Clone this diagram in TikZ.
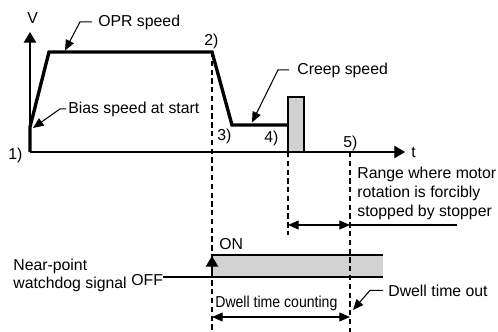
\documentclass[tikz,border=0pt]{standalone}
\usepackage{fontspec}
\setmainfont{Liberation Sans}
\usetikzlibrary{arrows.meta}
\definecolor{fillgray}{RGB}{210,210,210}
\begin{document}
\begin{tikzpicture}[x=0.02cm,y=-0.02cm,
  lbl/.style={inner sep=0pt, anchor=base west, font=\fontsize{9}{10.8}\selectfont},
  sline/.style={line width=0.6pt},
  axis/.style={line width=0.6pt, -{Triangle[length=6pt,width=7pt]}},
  profile/.style={line width=1.9pt, line join=miter},
  guide/.style={line width=0.6pt, dash pattern=on 3pt off 2pt},
  leader/.style={line width=0.6pt, -{Triangle[length=6pt,width=5pt]}},
  dim/.style={line width=0.6pt, {Triangle[length=6pt,width=5pt]}-{Triangle[length=6pt,width=5pt]}},
]
\useasboundingbox (0,0) rectangle (498,332);

% coordinates
\coordinate (o) at (30,152);
\coordinate (b) at (30,127);
\coordinate (a) at (49,52);
\coordinate (c2) at (212,52);
\coordinate (c3) at (232,125);
\coordinate (c4) at (288,125);
\coordinate (vtop) at (30,32);
\coordinate (tend) at (405,152);
\coordinate (g2b) at (212,332);
\coordinate (g4t) at (288,152);
\coordinate (g4b) at (288,235);
\coordinate (g5t) at (350,152);
\coordinate (g5b) at (350,332);
\coordinate (r1) at (288,225);
\coordinate (r2) at (350,225);
\coordinate (r3) at (457,225);
\coordinate (d1) at (212,317);
\coordinate (d2) at (350,317);
\coordinate (offs) at (163,277);
\coordinate (sigl) at (212,277);
\coordinate (sigr) at (383,277);
\coordinate (sigtl) at (212,255);
\coordinate (sigtr) at (383,255);
\coordinate (oprtip) at (65,50.5);
\coordinate (biastip) at (33,128);
\coordinate (creeptip) at (252,122.5);
\coordinate (dwotip) at (353,310);

% stopper
\draw[fill=fillgray, line width=1pt] (288,97) rectangle (304,152);

% axes
\draw[axis] (o) -- (vtop);
\draw[axis] (o) -- (tend);

% speed profile
\draw[profile] (o) -- (b) -- (a) -- (c2) -- (c3) -- (c4);

% signal
\fill[fillgray] (sigtl) rectangle (sigr);
\draw[sline] (offs) -- (sigr);
\draw[line width=1.4pt] (sigtl) -- (sigtr);
\draw[axis] (sigl) -- (212,256);

% guides
\draw[guide] (c2) -- (g2b);
\draw[guide] (g4t) -- (g4b);
\draw[guide] (g5t) -- (g5b);

% dimension arrows
\draw[dim] (r1) -- (r2);
\draw[sline] (r2) -- (r3);
\draw[dim] (d1) -- (d2);

% labels
\node[lbl] (V) at (27,23) {V};
\node[lbl] (opr) at (98,26) {OPR speed};
\node[lbl] (l2) at (204,45) {2)};
\node[lbl] (bias) at (68,113) {Bias speed at start};
\node[lbl] (l1) at (8,159) {1)};
\node[lbl] (l3) at (217,140) {3)};
\node[lbl] (l4) at (264,142) {4)};
\node[lbl] (l5) at (343,147) {5)};
\node[lbl] (t) at (411,157) {t};
\node[lbl] (creep) at (297,74) {Creep speed};
\node[lbl] (rng1) at (357,178) {Range where motor};
\node[lbl] (rng2) at (357,197) {rotation is forcibly};
\node[lbl] (rng3) at (357,216) {stopped by stopper};
\node[lbl] (on) at (219,249) {ON};
\node[lbl] (near1) at (13,270) {Near-point};
\node[lbl] (near2) at (13,288) {watchdog signal};
\node[lbl] (off) at (131,285) {OFF};
\node[lbl] (dwc) at (215,307) {\scalebox{0.89}[1]{Dwell time counting}};
\node[lbl] (dwo) at (388,296) {Dwell time out};

% leaders
\draw[leader] (opr.west) ++(-6,0) -- ++(-12,0) -- (oprtip);
\draw[leader] (bias.west) ++(-2,0) -- ++(-6,0) -- (biastip);
\draw[leader] (creep.west) ++(-8,0) -- ++(-11,0) -- (creeptip);
\draw[leader] (dwo.west) ++(-5,0) -- ++(-13,0) -- (dwotip);
\end{tikzpicture}
\end{document}
